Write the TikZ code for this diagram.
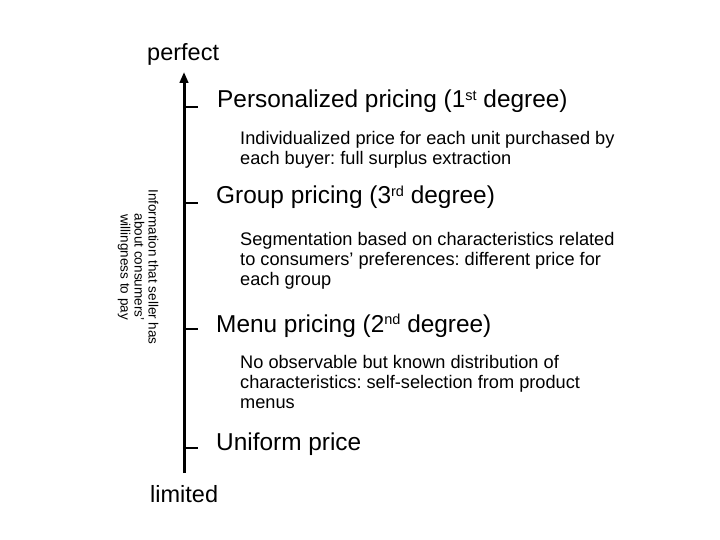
\documentclass[tikz,border=0pt]{standalone}
\usepackage{fontspec}
\setmainfont{Liberation Sans}
\usetikzlibrary{arrows.meta}
\frenchspacing
\newcommand\ordsup[1]{\raisebox{0.62ex}{\fontsize{14.5}{14.5}\selectfont #1}}
\begin{document}
\begin{tikzpicture}[x=1pt,y=-1pt,
  level/.style={anchor=base west,inner sep=0pt,font=\fontsize{24.4}{28}\selectfont},
  detail/.style={anchor=base west,inner sep=0pt,align=left,font=\fontsize{18.2}{20}\selectfont},
  axisend/.style={anchor=base west,inner sep=0pt,font=\fontsize{23.5}{28}\selectfont}]
  \useasboundingbox (0,0) rectangle (720,540);
  % axe vertical
  \coordinate (bot) at (184,473);
  \coordinate (top) at (184,72);
  \draw[line width=3pt,-{Triangle[length=11pt,width=8.5pt]}] (bot) -- (top);
  \node[axisend] (perfect) at (147,61) {perfect};
  \node[axisend] (limited) at (150,502) {limited};
  % tacche
  \foreach \y/\n in {107/t1,203/t3,329/t2,448/t0} {
    \coordinate (\n) at (186,\y);
    \draw[line width=1.5pt] (\n) -- ++(12,0);
  }
  % livelli
  \node[level] (first) at (217,108) {Personalized pricing (1\ordsup{st} degree)};
  \node[level] (third) at (216,204) {Group pricing (3\ordsup{rd} degree)};
  \node[level] (second) at (216,332) {Menu pricing (2\ordsup{nd} degree)};
  \node[level] (uniform) at (216,450) {Uniform price};
  % descrizioni (base = ultima riga)
  \node[detail] (firstd) at (240,165) {Individualized price for each unit purchased by\\each buyer: full surplus extraction};
  \node[detail] (thirdd) at (240,285) {Segmentation based on characteristics related\\to consumers' preferences: different price for\\each group};
  \node[detail] (secondd) at (240,408) {No observable but known distribution of\\characteristics: self-selection from product\\menus};
  \node[rotate=-90,align=center,inner sep=0pt,font=\fontsize{13.5}{14}\selectfont] (info) at (138,267)
    {Information that seller has\\about consumers'\\willingness to pay};
\end{tikzpicture}
\end{document}
